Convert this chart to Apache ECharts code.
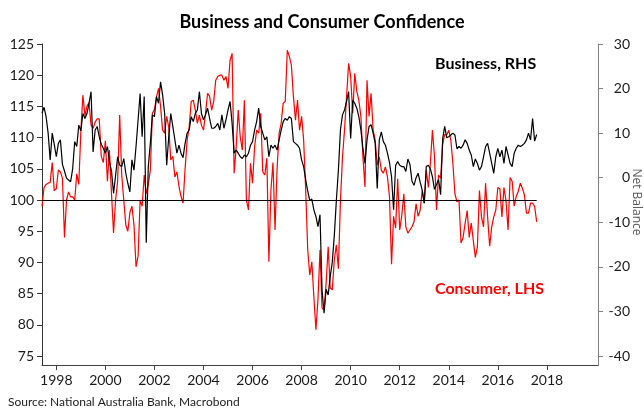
<!DOCTYPE html>
<html>
<head>
  <meta charset="UTF-8">
  <title>Business and Consumer Confidence</title>
  <script src="https://cdn.jsdelivr.net/npm/echarts@6/dist/echarts.min.js"></script>
  <style type="text/css">
  html, body { margin: 0; padding: 0; background: #ffffff; }
  #chart { width: 644px; height: 410px; }
  </style>
</head>
<body>
  <div id="chart"></div>

  <script>
    // monthly, Jun 1997 .. Aug 2017
    var consumer = [
      99, 102, 102.5, 102.7, 102.8, 106, 101.5,
      101.8, 104.8, 104.5, 103.5, 94, 100, 101.3, 100.5, 100.5, 100, 104.2, 102.5,
      111, 116.8, 113.5, 115, 115.6, 112, 111.5, 112.5, 113, 113, 107, 106,
      109.5, 103, 108, 101, 94.7, 100, 103, 113.6, 104, 100, 96, 95,
      98, 99, 96, 89.3, 91, 100, 99, 104, 101, 102.5, 104.8, 113.9,
      114.5, 116.5, 117.9, 115, 111.2, 110.7, 113.4, 111.7, 106.4, 107, 103.7, 104.5,
      102.2, 100.6, 99.5, 105, 109.6, 111.7, 115.8, 116, 114.4, 112.3, 113.6, 112,
      111.2, 113.9, 117.1, 116.6, 114.4, 115.8, 119.2, 119.8, 120, 120, 119.2, 119.8,
      117.9, 122.4, 123.5, 104.3, 108.5, 114.4, 110.1, 108, 116, 100, 98.4, 105.9,
      102.7, 108.5, 111.2, 110.7, 113.9, 104.5, 104, 106.7, 90.1, 101.6, 106, 95.2,
      105, 110.7, 112.3, 115.5, 115.8, 124, 123, 121.6, 116.6, 112.8, 116, 111.2,
      113.4, 109.6, 101.6, 92, 88, 90.1, 84.5, 79.2, 84, 92, 82.7, 82.4,
      86.7, 92.5, 85.9, 85.6, 90.4, 92.8, 89, 99.9, 106.9, 111.2, 116.6, 121.9,
      119.8, 113.9, 120.3, 117.4, 116, 113.4, 106.9, 102.1, 119.2, 113.4, 117.1, 111.2,
      109.6, 105.6, 106.9, 104.8, 104.3, 105.3, 103.7, 100.5, 89.7, 97.4, 95.5, 103.4,
      95.2, 97.5, 101, 95.7, 94.7, 95.2, 95.7, 96.5, 99.4, 97.4, 98.4, 101.5,
      99.5, 104.8, 102, 105.9, 111.2, 107, 98.4, 104, 103.5, 108.9, 110.5, 110.4,
      111.2, 109.6, 105.9, 101, 99.7, 100, 93.1, 94, 96.3, 98.3, 94, 96.3,
      93.5, 90.8, 92.5, 101.5, 97.3, 95.7, 102.7, 97.3, 92.6, 95.7, 97.3, 98.4,
      102, 101.8, 97.3, 102, 99.9, 95.2, 103.6, 103, 99, 100.6, 101.4, 102.7,
      101.9, 100.8, 97.9, 97.9, 99.5, 99.5, 99, 96.5
    ];
    var business = [
      14.5, 15.8, 13.7, 10, 4, 10, 7.5,
      4.7, 7.7, 8.5, 3, 1.5, -0.1, -0.5, -0.9, 2, 8.1, 7, 11.8,
      10.5, 14.4, 13.3, 14.4, 16.7, 19.3, 5.8, 10.7, 11.5, 9.2, 7.5, 6.6,
      5.5, 7, 3.6, 1.5, -3.5, 0.5, 4.7, 2.8, 2.5, 4.3, 1, -1.3,
      -3.2, 4, 1.7, 7, 12.9, 18.9, 9.2, 18.2, -14.6, 2.5, 7.7, 14.1,
      13.7, 18.2, 16.7, 21.5, 18.6, 14.4, 2.8, 9.2, 14.4, 11.5, 8.5, 5.5,
      7.3, 5.5, 4.5, 7.7, 10, 10.7, 13.7, 12.6, 14.4, 15.2, 19.3, 14.4,
      13, 14.1, 15.6, 13.3, 11.1, 11.1, 11.5, 12.2, 10.7, 14.1, 11.1, 13,
      15.2, 17.1, 12.2, 5.5, 6.2, 5.5, 4.7, 4.3, 5.1, 4.7, 5.5, 7.3,
      8.1, 10.7, 12.6, 15.6, 11.5, 10, 8.5, 9.2, 4.7, 7.3, 6.6, 7.3,
      6.2, 8.5, 10.7, 12.6, 13.3, 12.9, 13.7, 13.3, 8.1, 7.7, 7.3, 6.6,
      4, 2.5, -0.5, -3, -5.1, -4.8, -7.2, -8.7, -11, -8.3, -25.2, -30.4,
      -25, -26.3, -22.2, -19, -13, -5.1, 1.7, 10.7, 14.1, 15.2, 17.1, 19.3,
      8.8, 17.4, 16.7, 15.6, 13.7, 10.7, 6.6, 3.2, 8.5, 11.5, 11.9, 10,
      7.7, -2.4, 8.5, 10.3, 8.1, 7.3, 5.5, 3.4, 0.2, -7.2, 2.8, 3.6,
      2.8, 2.5, 2.5, 1.4, 4.2, 3, -0.8, -1.7, 0, 1, -1, -2.8,
      -5.7, 2.5, 2.8, 2, 0.2, -2.6, -1.5, -0.4, -3.8, 8.7, 11.5, 9,
      9.2, 9.6, 10, 9.6, 6.5, 7, 6.6, 7.3, 8.5, 7.7, 6.2, 5.1,
      2.5, 4.2, 3.2, 1.7, 2.5, 4.7, 7, 7.7, 5.5, 3.2, 1, 4.7,
      6.6, 4.7, 6.2, 3.2, 7, 5.1, 3.2, 2.5, 5.5, 6.6, 7.3, 7,
      7.3, 7.7, 8.5, 10, 8.5, 13.3, 8.2, 9.7
    ];
    var leftTicks = [75, 80, 85, 90, 95, 100, 105, 110, 115, 120, 125];
    var rightTicks = [-40, -30, -20, -10, 0, 10, 20, 30];
    var lastLabelYear = 2018;
    var refLevel = 100;

    // month categories for the x axis, Jun 1997 .. Feb 2020
    var months = [];
    for (var y = 1997, m = 6; y < 2020 || (y == 2020 && m <= 2); m++) {
      if (m > 12) { m = 1; y++; }
      if (y == 2020 && m > 2) break;
      months.push(y + '-' + (m < 10 ? '0' + m : m));
    }

    function evenJanuary(idx, val) {
      var yr = +val.slice(0, 4);
      return val.slice(5) == '01' && yr % 2 == 0 && yr <= lastLabelYear;
    }

    var font = 'Lato, "Liberation Sans", sans-serif';
    var chart = echarts.init(document.getElementById('chart'), null, {renderer: 'canvas'});

    chart.setOption({
      animation: false,
      backgroundColor: '#ffffff',
      title: {
        text: 'Business and Consumer Confidence',
        left: 'center',
        top: 8,
        textStyle: {fontFamily: font, fontSize: 18, fontWeight: 'bold', color: '#000'}
      },
      grid: {left: 42, right: 46, top: 44, bottom: 45, containLabel: false, outerBoundsMode: 'none'},
      xAxis: {
        type: 'category',
        data: months,
        boundaryGap: false,
        axisLine: {onZero: false, lineStyle: {color: '#404040', width: 1}},
        axisTick: {interval: evenJanuary, length: 5, lineStyle: {color: '#404040'}},
        axisLabel: {
          interval: evenJanuary,
          formatter: function (v) { return v.slice(0, 4); },
          margin: 8,
          fontFamily: font, fontSize: 14, color: '#1a1a1a'
        },
        splitLine: {show: false}
      },
      yAxis: [
        {
          type: 'value',
          position: 'left',
          min: 73.56,
          max: 125,
          axisLine: {show: true, lineStyle: {color: '#333333'}},
          axisTick: {show: true, length: 5, customValues: leftTicks, lineStyle: {color: '#333333'}},
          axisLabel: {customValues: leftTicks, margin: 8, fontFamily: font, fontSize: 14, color: '#1a1a1a'},
          splitLine: {show: false}
        },
        {
          type: 'value',
          position: 'right',
          min: -42.02,
          max: 30,
          axisLine: {show: true, lineStyle: {color: '#808080'}},
          axisTick: {show: true, length: 5, customValues: rightTicks, lineStyle: {color: '#808080'}},
          axisLabel: {customValues: rightTicks, align: 'right', margin: 32, fontFamily: font, fontSize: 14, color: '#1a1a1a'},
          splitLine: {show: false}
        }
      ],
      series: [
        {
          name: 'Consumer, LHS',
          type: 'line',
          yAxisIndex: 0,
          data: consumer,
          showSymbol: false,
          lineStyle: {color: '#ff0000', width: 1.2},
          itemStyle: {color: '#ff0000'},
          markLine: {
            silent: true,
            symbol: 'none',
            label: {show: false},
            lineStyle: {color: '#000000', width: 1, type: 'solid'},
            data: [[{coord: [months[0], refLevel]}, {coord: [months[consumer.length - 1], refLevel]}]]
          }
        },
        {
          name: 'Business, RHS',
          type: 'line',
          yAxisIndex: 1,
          data: business,
          showSymbol: false,
          lineStyle: {color: '#000000', width: 1.2},
          itemStyle: {color: '#000000'}
        }
      ],
      graphic: [
        {type: 'text', left: 435, top: 56, style: {text: 'Business, RHS', font: 'bold 16px ' + font, fill: '#000'}},
        {type: 'text', left: 435, top: 281, style: {text: 'Consumer, LHS', font: 'bold 16px ' + font, fill: '#ff0000'}},
        {type: 'text', left: 8, top: 396, style: {text: 'Source: National Australia Bank, Macrobond', font: '12px ' + font, fill: '#222'}},
        {
          type: 'text', x: 636, y: 202, rotation: -Math.PI / 2,
          style: {text: 'Net Balance', font: '12px "Open Sans", sans-serif', fill: '#595959', align: 'center', verticalAlign: 'middle'}
        }
      ]
    });
  </script>
</body>
</html>
